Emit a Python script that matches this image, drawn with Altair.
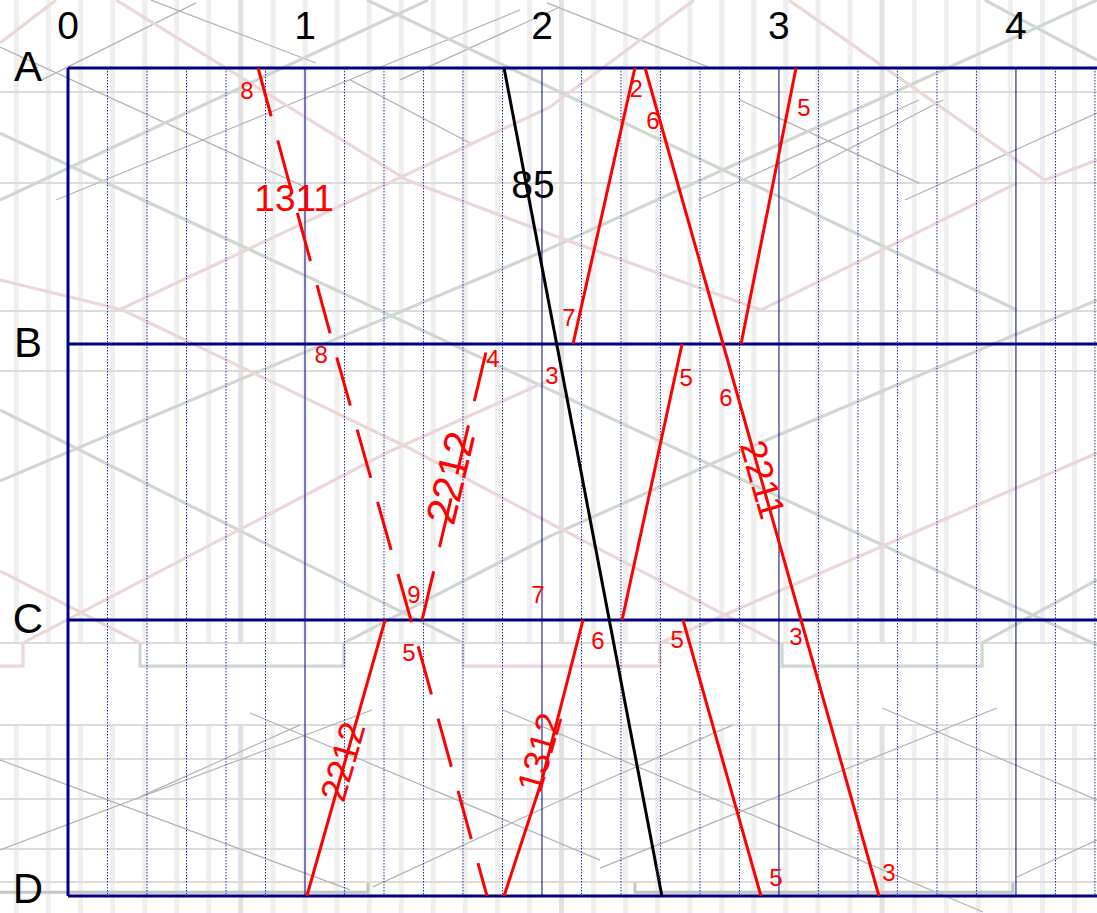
import altair as alt
import pandas as pd

# ---------------------------------------------------------------------------
# Coordinate system: x = time in hours, y = station row (A=0 ... D=3)
# ---------------------------------------------------------------------------
X_DOMAIN = [-0.287, 4.342]
Y_DOMAIN = [-0.2464, 3.0616]
RIGHT_EDGE = 4.342

station_names = ["A", "B", "C", "D"]
station_rows = [0, 1, 2, 3]
hour_labels = [0, 1, 2, 3, 4]
grid_minutes = [10, 20, 30, 40, 50, 70, 80, 90, 100, 110, 130, 140, 150,
                160, 170, 190, 200, 210, 220, 230, 250, 260]

# ---------------------------------------------------------------------------
# Train runs (time in hours, station row)
# ---------------------------------------------------------------------------
solid_runs = {
    "2211": ([2.435, 2.764, 3.093, 3.422], [0, 1, 2, 3]),
    "up_7_2": ([2.131, 2.392], [1, 0]),
    "up_5_a": ([2.840, 3.072], [1, 0]),
    "up_5_b": ([2.338, 2.591], [2, 1]),
    "1312": ([1.840, 2.000, 2.173], [3, 2.58, 2]),
    "2212_low": ([1.008, 1.338], [3, 2]),
    "down_5": ([2.595, 2.924], [2, 3]),
}
dashed_runs = {
    "1311": ([0.802, 1.118, 1.447, 1.768], [0, 1, 2, 3]),
    "2212_up": ([1.494, 1.772], [2, 1]),
}
black_runs = {
    "85": ([1.840, 2.506], [0, 3]),
}

# minute labels at the stops
stop_text = ["8", "2", "6", "5", "7", "8", "4", "3", "5", "6",
             "9", "7", "5", "6", "5", "3", "5", "3"]
stop_x = [0.755, 2.397, 2.468, 3.105, 2.114, 1.068, 1.793, 2.042, 2.608, 2.776,
          1.460, 1.983, 1.439, 2.236, 2.570, 3.072, 2.987, 3.464]
stop_y = [0.087, 0.080, 0.196, 0.149, 0.909, 1.043, 1.058, 1.120, 1.127, 1.199,
          1.913, 1.913, 2.123, 2.080, 2.076, 2.065, 2.938, 2.920]

# train numbers written along the runs
train_text = ["85", "1311", "2212", "2212", "1312", "2211"]
train_x = [1.962, 0.954, 1.620, 1.165, 1.996, 2.924]
train_y = [0.428, 0.478, 1.486, 2.514, 2.482, 1.493]
train_angle = [0, 0, 283.4, 286, 286, 74]
train_size = [39, 37, 42, 36, 36, 37]
train_color = ["#000000", "#ff0000", "#ff0000", "#ff0000", "#ff0000", "#ff0000"]

# ---------------------------------------------------------------------------
# Faded diagram underneath
# ---------------------------------------------------------------------------
stripe_light = [-0.218, -0.083, 0.053, 0.188, 0.324, 0.459, 0.594, 0.865,
                1.0, 1.135, 1.271, 1.406, 1.541, 1.676, 1.812, 1.947,
                2.218, 2.353, 2.488, 2.624, 2.759, 2.894, 3.029, 3.165,
                3.300, 3.571, 3.706, 3.841, 3.976, 4.112, 4.247]
stripe_dark = [0.729, 2.082, 3.435]
stripe_bands = [(-0.2464, 2.083), (2.380, 3.0616)]
faint_rows = [0.087, 0.417, 0.880, 1.098, 2.083, 2.380, 2.504, 2.649, 2.830, 2.949]

green_paths = [
    [(-0.287, 0.478), (1.519, -0.246)],
    [(-0.287, 0.236), (4.342, 2.091)],
    [(1.262, -0.246), (4.004, 0.877)],
    [(-0.287, 1.496), (2.021, 0.659), (4.342, -0.246)],
    [(-0.287, 1.239), (1.667, 2.083)],
    [(0.304, 2.083), (0.304, 2.167), (1.165, 2.167), (1.165, 2.083),
     (2.034, 1.696), (2.789, 1.406), (4.342, 0.841)],
    [(3.013, 2.083), (3.013, 2.167), (3.857, 2.167), (3.857, 2.083), (4.342, 1.855)],
    [(3.869, -0.246), (4.342, -0.029)],
]
pink_paths = [
    [(-0.287, -0.091), (-0.051, -0.246)],
    [(0.203, -0.246), (1.430, 0.406), (2.021, 0.598), (2.924, 0.877)],
    [(0.215, 0.877), (2.034, 0.141), (2.641, -0.246)],
    [(-0.287, 0.768), (0.232, 0.877), (1.430, 1.373), (2.034, 1.649), (2.996, 2.083)],
    [(-0.287, 1.822), (0.304, 2.083)],
    [(-0.287, 2.167), (-0.190, 2.167), (-0.190, 2.083), (1.342, 1.395), (2.034, 1.130)],
    [(1.667, 2.083), (1.667, 2.167), (2.498, 2.167), (2.498, 2.083), (4.342, 1.395)],
    [(3.042, -0.246), (4.122, 0.406), (4.342, 0.333)],
    [(2.924, 0.877), (4.004, 0.417)],
]
gray_paths = [
    [(-0.287, -0.076), (1.0, 0.431)],
    [(-0.110, 0.043), (0.540, -0.236)],
    [(-0.051, 0.478), (1.907, -0.210)],
    [(0.350, -0.246), (1.046, -0.018)],
    [(1.190, 0.043), (1.696, 0.272)],
    [(1.401, 0.043), (2.076, -0.221)],
    [(2.021, -0.236), (2.700, -0.004)],
    [(2.658, 0.478), (3.591, 0.116)],
    [(3.532, 0.478), (4.342, 0.163)],
    [(2.835, 0.116), (3.591, 0.417)],
    [(3.042, 0.406), (3.692, 0.116)],
    [(-0.287, 2.507), (1.190, 2.978)],
    [(-0.287, 2.833), (1.283, 2.326)],
    [(0.768, 2.337), (2.245, 2.870)],
    [(0.304, 2.641), (0.979, 2.380)],
    [(1.835, 2.326), (3.861, 3.058)],
    [(2.245, 2.899), (3.920, 2.319)],
    [(1.287, 2.967), (2.173, 2.616), (2.806, 2.380)],
    [(3.435, 2.319), (4.342, 2.652)],
    [(4.004, 2.931), (4.342, 2.797)],
]
gray_steps = [
    [(-0.287, 2.986), (1.266, 2.986), (1.266, 2.953)],
    [(2.392, 2.953), (2.392, 2.986), (3.987, 2.986), (3.987, 2.953)],
]

# ---------------------------------------------------------------------------
xs = alt.Scale(domain=X_DOMAIN, nice=False, zero=False)
ys = alt.Scale(domain=Y_DOMAIN, nice=False, zero=False, reverse=True)
X = lambda f: alt.X(f, type="quantitative", scale=xs, axis=None)
Y = lambda f: alt.Y(f, type="quantitative", scale=ys, axis=None)


def paths_frame(paths):
    rows = []
    for pid, pts in enumerate(paths):
        for k, (px, py) in enumerate(pts):
            rows.append({"id": pid, "k": k, "x": px, "y": py})
    return pd.DataFrame(rows)


def runs_frame(runs):
    rows = []
    for name, (ts, ss) in runs.items():
        for k, (t, s) in enumerate(zip(ts, ss)):
            rows.append({"id": name, "k": k, "x": t, "y": s})
    return pd.DataFrame(rows)


def path_layer(df, color, width, dash=None, opacity=1.0):
    kw = dict(color=color, strokeWidth=width, opacity=opacity, clip=True,
              strokeCap="butt")
    if dash is not None:
        kw["strokeDash"] = dash
    return alt.Chart(df).mark_line(**kw).encode(
        x=X("x"), y=Y("y"), detail="id:N", order="k:Q")


layers = []

# background stripes
for stripes, col in ((stripe_light, "#efefef"), (stripe_dark, "#e1e1e1")):
    rows = [{"x": sx, "y": b0, "y2": b1} for sx in stripes for (b0, b1) in stripe_bands]
    layers.append(alt.Chart(pd.DataFrame(rows)).mark_rule(
        color=col, strokeWidth=5).encode(x=X("x"), y=Y("y"), y2="y2"))

layers.append(alt.Chart(pd.DataFrame({"y": faint_rows, "x": X_DOMAIN[0], "x2": RIGHT_EDGE}))
              .mark_rule(color="#dcdcdc", strokeWidth=2)
              .encode(x=X("x"), x2="x2", y=Y("y")))

layers.append(path_layer(paths_frame(gray_paths), "#b3b3b3", 1.2))
layers.append(path_layer(paths_frame(green_paths), "#cfd8cf", 3.2))
layers.append(path_layer(paths_frame(pink_paths), "#ecd7d7", 3.2))
layers.append(path_layer(paths_frame(gray_steps), "#c4c4c4", 3))

# ten-minute grid
grid_hours = [m / 60 for m in grid_minutes]
layers.append(alt.Chart(pd.DataFrame({"x": grid_hours, "y": 0, "y2": 3}))
              .mark_rule(color="#2a2aa0", strokeWidth=1, strokeDash=[1.5, 1.5])
              .encode(x=X("x"), y=Y("y"), y2="y2"))
# hour lines
layers.append(alt.Chart(pd.DataFrame({"x": hour_labels[1:], "y": 0, "y2": 3}))
              .mark_rule(color="#000080", strokeWidth=1)
              .encode(x=X("x"), y=Y("y"), y2="y2"))
# station lines
layers.append(alt.Chart(pd.DataFrame({"y": station_rows, "x": 0, "x2": RIGHT_EDGE}))
              .mark_rule(color="#000080", strokeWidth=3)
              .encode(x=X("x"), x2="x2", y=Y("y")))
# left frame
layers.append(alt.Chart(pd.DataFrame({"x": [0], "y": [0], "y2": [3]}))
              .mark_rule(color="#000080", strokeWidth=3)
              .encode(x=X("x"), y=Y("y"), y2="y2"))

# train paths
layers.append(path_layer(runs_frame(solid_runs), "#ff0000", 3))
layers.append(path_layer(runs_frame(dashed_runs), "#ff0000", 3, dash=[50, 25]))
layers.append(path_layer(runs_frame(black_runs), "#000000", 3))

FONT = "Liberation Sans"

# stop minute labels
layers.append(alt.Chart(pd.DataFrame({"t": stop_text, "x": stop_x, "y": stop_y}))
              .mark_text(font=FONT, fontSize=24, color="#ff0000", align="center",
                         baseline="middle")
              .encode(x=X("x"), y=Y("y"), text="t:N"))

# train numbers
tdf = pd.DataFrame({"t": train_text, "x": train_x, "y": train_y,
                    "a": train_angle, "s": train_size, "c": train_color})
layers.append(alt.Chart(tdf).mark_text(font=FONT, align="center", baseline="middle")
              .encode(x=X("x"), y=Y("y"), text="t:N",
                      angle=alt.Angle("a:Q", scale=None),
                      size=alt.Size("s:Q", scale=None),
                      color=alt.Color("c:N", scale=None)))

# hour labels along the top
layers.append(alt.Chart(pd.DataFrame({"t": [str(h) for h in hour_labels],
                                      "x": hour_labels, "y": -0.150}))
              .mark_text(font=FONT, fontSize=39, color="#000000", align="center",
                         baseline="middle")
              .encode(x=X("x"), y=Y("y"), text="t:N"))

# station names on the left (the last one sits on the bottom edge)
layers.append(alt.Chart(pd.DataFrame({"t": station_names[:-1], "x": -0.169,
                                      "y": station_rows[:-1]}))
              .mark_text(font=FONT, fontSize=42, color="#000000", align="center",
                         baseline="middle")
              .encode(x=X("x"), y=Y("y"), text="t:N"))
layers.append(alt.Chart(pd.DataFrame({"t": station_names[-1:], "x": -0.169,
                                      "y": [Y_DOMAIN[1]]}))
              .mark_text(font=FONT, fontSize=42, color="#000000", align="center",
                         baseline="bottom", dy=-1)
              .encode(x=X("x"), y=Y("y"), text="t:N"))

chart = (alt.layer(*layers)
         .properties(width=1097, height=913, padding=0,
                     autosize=alt.AutoSizeParams(type="none"), background="#ffffff")
         .configure_view(strokeWidth=0))

chart.save("out.html", embed_options={"renderer": "svg", "actions": False})
